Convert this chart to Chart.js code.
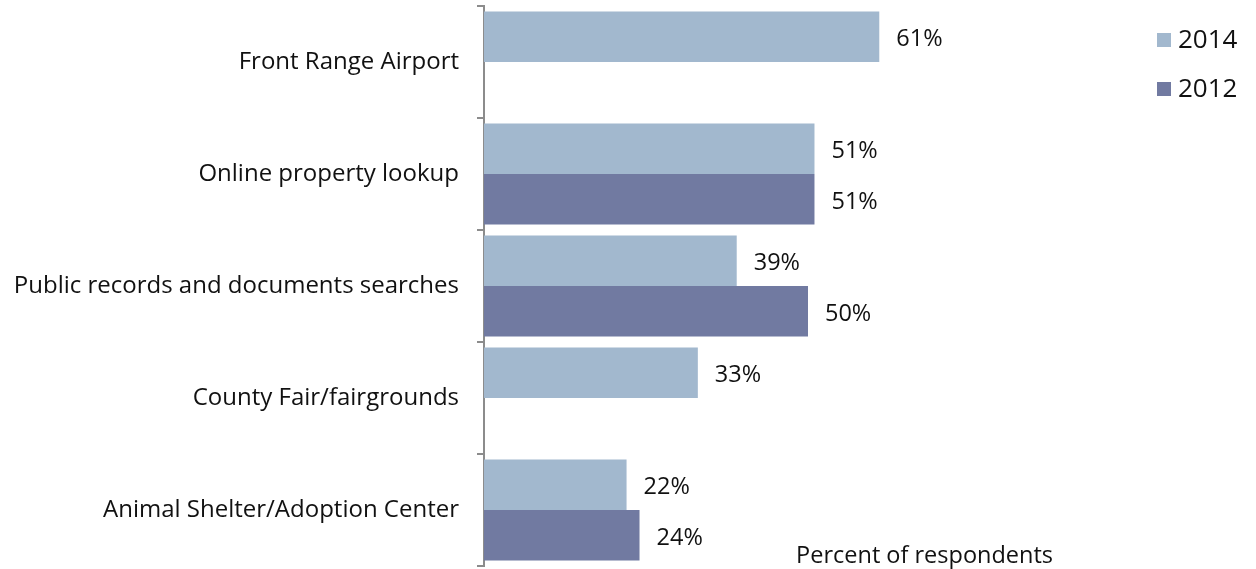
<!DOCTYPE html>
<html lang="en">
<head>
    <meta charset="UTF-8">
    <title>Service usage</title>
    <script src="https://cdn.jsdelivr.net/npm/chart.js"></script>
    <style>
        html, body { margin: 0; padding: 0; background: #ffffff; }
        .chart-box { position: relative; width: 1256px; height: 569px; }
    </style>
</head>
<body>
    <div class="chart-box">
        <canvas id="usageChart"></canvas>
    </div>

    <script>
        // services and share of respondents using them
        const categories = [
            'Front Range Airport',
            'Online property lookup',
            'Public records and documents searches',
            'County Fair/fairgrounds',
            'Animal Shelter/Adoption Center'
        ];
        const values2014 = [61, 51, 39, 33, 22];
        const values2012 = [null, 51, 50, null, 24];

        const FONT = '"Open Sans", "Liberation Sans", sans-serif';
        const TEXT = '#111111';
        const AXIS_GREY = '#8c8c8c';

        // value labels to the right of each bar
        const barLabels = {
            id: 'barLabels',
            afterDatasetsDraw(chart) {
                const ctx = chart.ctx;
                ctx.save();
                ctx.font = '23.5px ' + FONT;
                ctx.fillStyle = TEXT;
                ctx.textAlign = 'left';
                ctx.textBaseline = 'middle';
                chart.data.datasets.forEach((ds, i) => {
                    chart.getDatasetMeta(i).data.forEach((bar, j) => {
                        if (ds.data[j] == null) return;
                        ctx.fillText(ds.data[j] + '%', bar.x + 17, bar.y + 3);
                    });
                });
                ctx.restore();
            }
        };

        // legend in the top right corner, one row per year
        const sideLegend = {
            id: 'sideLegend',
            afterDraw(chart) {
                const ctx = chart.ctx;
                const x = chart.width - 99;
                ctx.save();
                ctx.font = '26px ' + FONT;
                ctx.textAlign = 'left';
                ctx.textBaseline = 'middle';
                chart.data.datasets.forEach((ds, i) => {
                    const y = 40 + i * 49;
                    ctx.fillStyle = ds.backgroundColor;
                    ctx.fillRect(x, y - 7, 14, 14);
                    ctx.fillStyle = TEXT;
                    ctx.fillText(ds.label, x + 21, y + 1);
                });
                ctx.restore();
            }
        };

        // x axis caption sits inside the plot, bottom right
        const axisCaption = {
            id: 'axisCaption',
            afterDraw(chart) {
                const ctx = chart.ctx;
                const area = chart.chartArea;
                ctx.save();
                ctx.font = '23.5px ' + FONT;
                ctx.fillStyle = TEXT;
                ctx.textAlign = 'right';
                ctx.textBaseline = 'middle';
                ctx.fillText('Percent of respondents', area.right - 79, 556);
                ctx.restore();
            }
        };

        const ctx = document.getElementById('usageChart').getContext('2d');
        new Chart(ctx, {
            type: 'bar',
            data: {
                labels: categories,
                datasets: [
                    {
                        label: '2014',
                        data: values2014,
                        backgroundColor: '#a2b8ce',
                        categoryPercentage: 0.9,
                        barPercentage: 1.0
                    },
                    {
                        label: '2012',
                        data: values2012,
                        backgroundColor: '#717aa1',
                        categoryPercentage: 0.9,
                        barPercentage: 1.0
                    }
                ]
            },
            options: {
                indexAxis: 'y',
                responsive: true,
                maintainAspectRatio: false,
                animation: false,
                layout: { padding: { top: 6, bottom: 3, right: 124, left: 0 } },
                scales: {
                    x: {
                        display: false,
                        min: 0,
                        max: 100
                    },
                    y: {
                        afterFit(scale) {
                            scale.width = 484;
                            scale.paddingTop = 0;
                            scale.paddingBottom = 0;
                        },
                        border: { display: true, color: AXIS_GREY, width: 2 },
                        grid: {
                            drawOnChartArea: false,
                            drawTicks: true,
                            tickLength: 7,
                            color: AXIS_GREY,
                            lineWidth: 2
                        },
                        ticks: {
                            padding: 18,
                            color: TEXT,
                            font: { family: FONT, size: 24 }
                        }
                    }
                },
                plugins: {
                    legend: { display: false },
                    tooltip: { enabled: false }
                }
            },
            plugins: [barLabels, sideLegend, axisCaption]
        });
    </script>
</body>
</html>
